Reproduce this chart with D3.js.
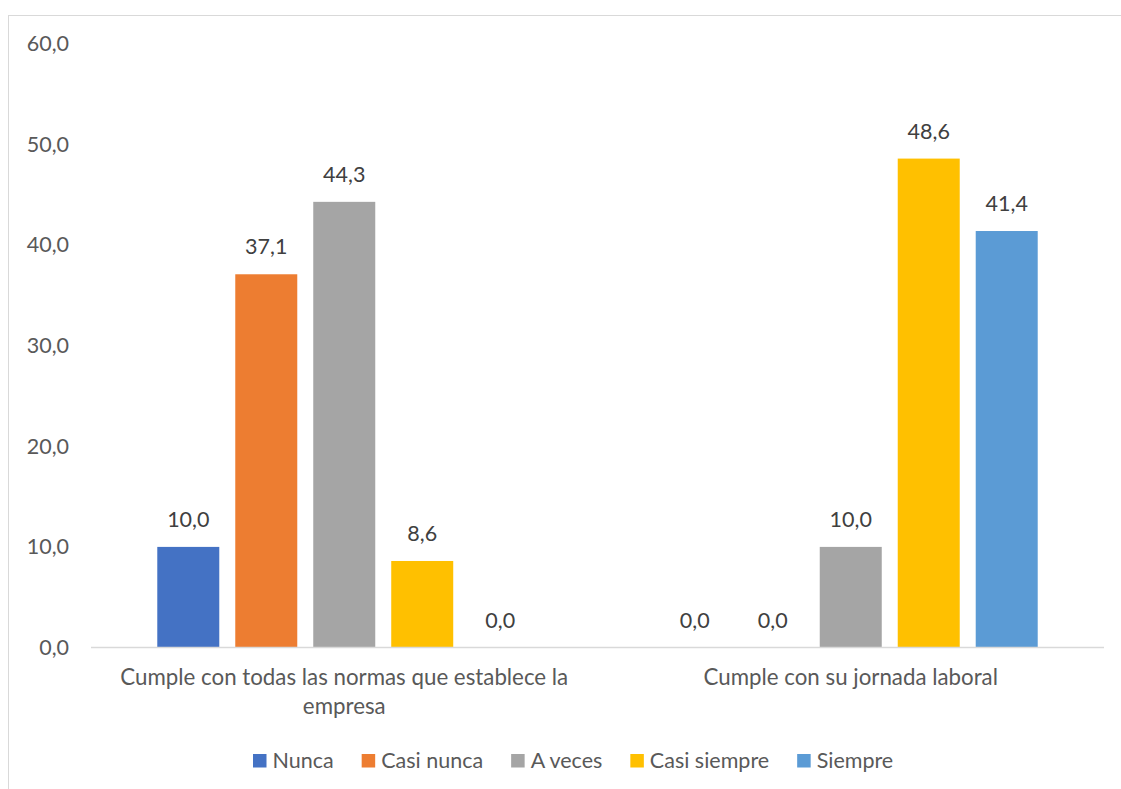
<!DOCTYPE html>
<html><head><meta charset="utf-8">
<script src="https://cdn.jsdelivr.net/npm/d3@7"></script>
<style>body{margin:0;background:#fff}svg{display:block}text{font-family:Lato,"Open Sans",sans-serif}</style>
</head><body>
<svg id="c" width="1121" height="789"></svg>
<script>
const categories = [["Cumple con todas las normas que establece la","empresa"],["Cumple con su jornada laboral"]];
const categoryKeys = ["normas","jornada"];
const seriesNames = ["Nunca","Casi nunca","A veces","Casi siempre","Siempre"];
const seriesColors = ["#4472C4","#ED7D31","#A5A5A5","#FFC000","#5B9BD5"];
const values = [
  [10.0, 37.1, 44.3, 8.6, 0.0],
  [0.0, 0.0, 10.0, 48.6, 41.4]
];
const yTicks = [0,10,20,30,40,50,60];

const FS = 21.5;
const svg = d3.select("#c");
const fmt = v => v.toFixed(1).replace(".", ",");

// chart border
svg.append("rect").attr("x",8.5).attr("y",15.5).attr("width",1130).attr("height",800)
  .attr("fill","none").attr("stroke","#d9d9d9").attr("stroke-width",1);

const x0 = d3.scaleBand().domain(categoryKeys).range([91,1104]).padding(0);
const x1 = d3.scaleBand().domain(seriesNames).range([0,x0.bandwidth()]).paddingInner(0.205).paddingOuter(0.85);
const y = d3.scaleLinear().domain([0,60]).range([647.5,43.9]);

// y axis labels
const yAxis = d3.axisLeft(y).tickValues(yTicks).tickSize(0).tickPadding(0).tickFormat(fmt);
const ga = svg.append("g").attr("transform","translate(69,0)").call(yAxis);
ga.select(".domain").remove();
ga.selectAll("text").attr("font-size",FS).attr("fill","#595959").attr("font-family","Lato,'Open Sans',sans-serif");

// bars
categoryKeys.forEach((k,ci)=>{
  const g = svg.append("g").attr("transform",`translate(${x0(k)},0)`);
  g.selectAll("rect").data(values[ci]).join("rect")
    .attr("x",(d,i)=>x1(seriesNames[i]))
    .attr("width",x1.bandwidth())
    .attr("y",d=>y(d))
    .attr("height",d=>y(0)-y(d))
    .attr("fill",(d,i)=>seriesColors[i]);
  g.selectAll("text.lbl").data(values[ci]).join("text").attr("class","lbl")
    .attr("x",(d,i)=>x1(seriesNames[i])+x1.bandwidth()/2)
    .attr("y",d=>y(d)-20)
    .attr("text-anchor","middle").attr("font-size",FS).attr("fill","#404040")
    .text(fmt);
});

// x axis line
svg.append("line").attr("x1",91).attr("x2",1104).attr("y1",y(0)).attr("y2",y(0))
  .attr("stroke","#d9d9d9").attr("stroke-width",1.5);

// category labels
categoryKeys.forEach((k,ci)=>{
  const t = svg.append("text").attr("text-anchor","middle").attr("font-size",22.3).attr("fill","#595959");
  categories[ci].forEach((line,li)=>{
    t.append("tspan").attr("x",x0(k)+x0.bandwidth()/2).attr("y",685+li*29).text(line);
  });
});

// legend
const lg = svg.append("g");
let lx = 253;
seriesNames.forEach((s,i)=>{
  lg.append("rect").attr("x",lx).attr("y",754).attr("width",13.5).attr("height",13.5).attr("fill",seriesColors[i]);
  const t = lg.append("text").attr("x",lx+19.5).attr("y",767.5).attr("font-size",FS).attr("fill","#595959").text(s);
  lx += 19.5 + t.node().getComputedTextLength() + 28;
});
</script>
</body></html>
